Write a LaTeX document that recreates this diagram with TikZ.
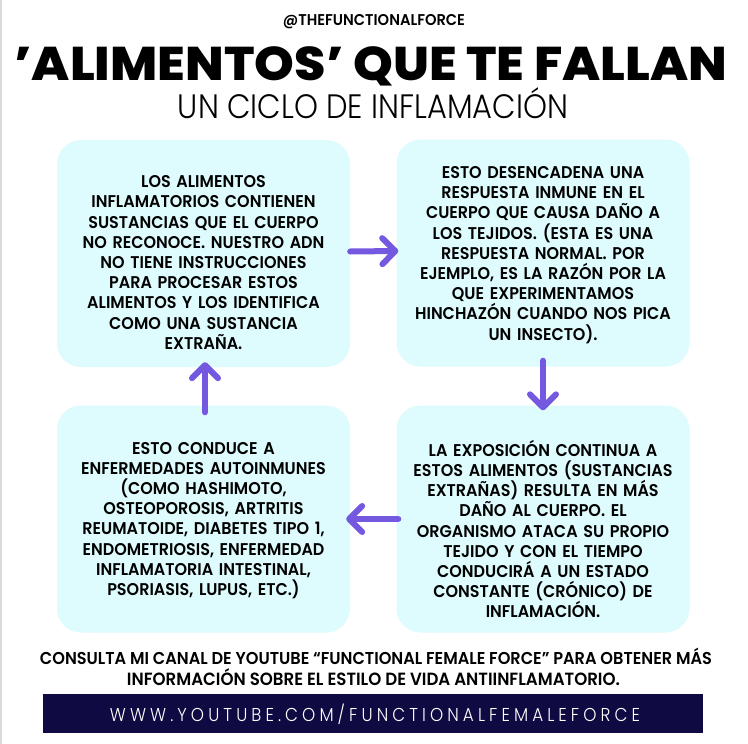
\documentclass[tikz,border=0pt]{standalone}
\usepackage{graphicx}
\usepackage{fontspec}
\setmainfont{Poppins}
\newfontfamily\bodyfont{Poppins SemiBold}[FakeStretch=0.94]
\newfontfamily\thinfont{Poppins Light}[FakeStretch=0.9]
\newfontfamily\titlefont{Poppins ExtraBold}[FakeStretch=1.07]
\usetikzlibrary{arrows.meta}
\definecolor{caja}{HTML}{DEFBFD}
\definecolor{morado}{HTML}{7558E0}
\definecolor{marino}{HTML}{0F0A42}
\definecolor{borde}{HTML}{DADADA}
\tikzset{
  box/.style={fill=caja, rounded corners=24pt, minimum width=293pt, minimum height=227pt, inner sep=0pt},
  texto/.style={text width=290pt, align=center, inner sep=0pt, font=\bodyfont\fontsize{17}{20.2}\selectfont},
  flecha/.style={draw=morado, line width=6pt, line cap=round,
    -{Straight Barb[length=13pt, width=26pt, round]}},
  lab/.style={anchor=base, inner sep=0pt},
}

\begin{document}
\begin{tikzpicture}[x=1pt, y=-1pt]
  \useasboundingbox (0,0) rectangle (748,744);
  \fill[white] (0,0) rectangle (748,744);
  \draw[borde, line width=2pt] (1,0) -- (1,744);

  \node[lab] (usuario) at (374,26) {\resizebox{182pt}{!}{\bodyfont @THEFUNCTIONALFORCE}};
  \node[lab] (titulo) at (371,80) {\resizebox{713pt}{!}{\titlefont ’ALIMENTOS’ QUE TE FALLAN}};
  \node[lab] (subtitulo) at (373,118) {\resizebox{390pt}{!}{\thinfont UN CICLO DE INFLAMACIÓN}};

  \node[box] (b1) at (203.5,253.5) {};
  \node[box] (b2) at (543,253) {};
  \node[box] (b3) at (203.5,519) {};
  \node[box] (b4) at (543,519) {};

  \node[texto] (t1) at ([yshift=-9pt]b1) {LOS ALIMENTOS\\ INFLAMATORIOS CONTIENEN\\ SUSTANCIAS QUE EL CUERPO\\
    NO RECONOCE. NUESTRO ADN\\ NO TIENE INSTRUCCIONES\\ PARA PROCESAR ESTOS\\
    ALIMENTOS Y LOS IDENTIFICA\\ COMO UNA SUSTANCIA\\ EXTRAÑA.};
  \node[texto] (t2) at ([yshift=-2pt]b2) {ESTO DESENCADENA UNA\\ RESPUESTA INMUNE EN EL\\ CUERPO QUE CAUSA DAÑO A\\
    LOS TEJIDOS. (ESTA ES UNA\\ RESPUESTA NORMAL. POR\\ EJEMPLO, ES LA RAZÓN POR LA\\
    QUE EXPERIMENTAMOS\\ HINCHAZÓN CUANDO NOS PICA\\ UN INSECTO).};
  \node[texto] (t3) at ([yshift=-1.5pt]b3) {ESTO CONDUCE A\\ ENFERMEDADES AUTOINMUNES\\ (COMO HASHIMOTO,\\
    OSTEOPOROSIS, ARTRITIS\\ REUMATOIDE, DIABETES TIPO 1,\\ ENDOMETRIOSIS, ENFERMEDAD\\
    INFLAMATORIA INTESTINAL,\\ PSORIASIS, LUPUS, ETC.)};
  \node[texto] (t4) at ([yshift=-10pt]b4) {LA EXPOSICIÓN CONTINUA A\\ ESTOS ALIMENTOS (SUSTANCIAS\\ EXTRAÑAS) RESULTA EN MÁS\\
    DAÑO AL CUERPO. EL\\ ORGANISMO ATACA SU PROPIO\\ TEJIDO Y CON EL TIEMPO\\
    CONDUCIRÁ A UN ESTADO\\ CONSTANTE (CRÓNICO) DE\\ INFLAMACIÓN.};

  \draw[flecha] ([yshift=2pt]b1.east) -- ([xshift=2pt,yshift=2pt]b2.west);
  \draw[flecha] ([yshift=6pt]b2.south) -- ([yshift=-5pt]b4.north);
  \draw[flecha] ([xshift=2pt]b4.west) -- ([xshift=-4pt]b3.east);
  \draw[flecha] ([xshift=1.5pt,yshift=-7pt]b3.north) -- ([xshift=1.5pt,yshift=5pt]b1.south);

  \node[lab] (nota1) at (376,664) {\resizebox{672pt}{!}{\bodyfont CONSULTA MI CANAL DE YOUTUBE “FUNCTIONAL FEMALE FORCE” PARA OBTENER MÁS}};
  \node[lab] (nota2) at (373.5,685) {\resizebox{493pt}{!}{\bodyfont INFORMACIÓN SOBRE EL ESTILO DE VIDA ANTIINFLAMATORIO.}};

  \fill[marino] (43,694) rectangle (703,733);
  \node[lab, text=white] (enlace) at (375,721) {\resizebox{530pt}{!}{\thinfont\addfontfeatures{LetterSpace=22} WWW.YOUTUBE.COM/FUNCTIONALFEMALEFORCE}};
\end{tikzpicture}
\end{document}
